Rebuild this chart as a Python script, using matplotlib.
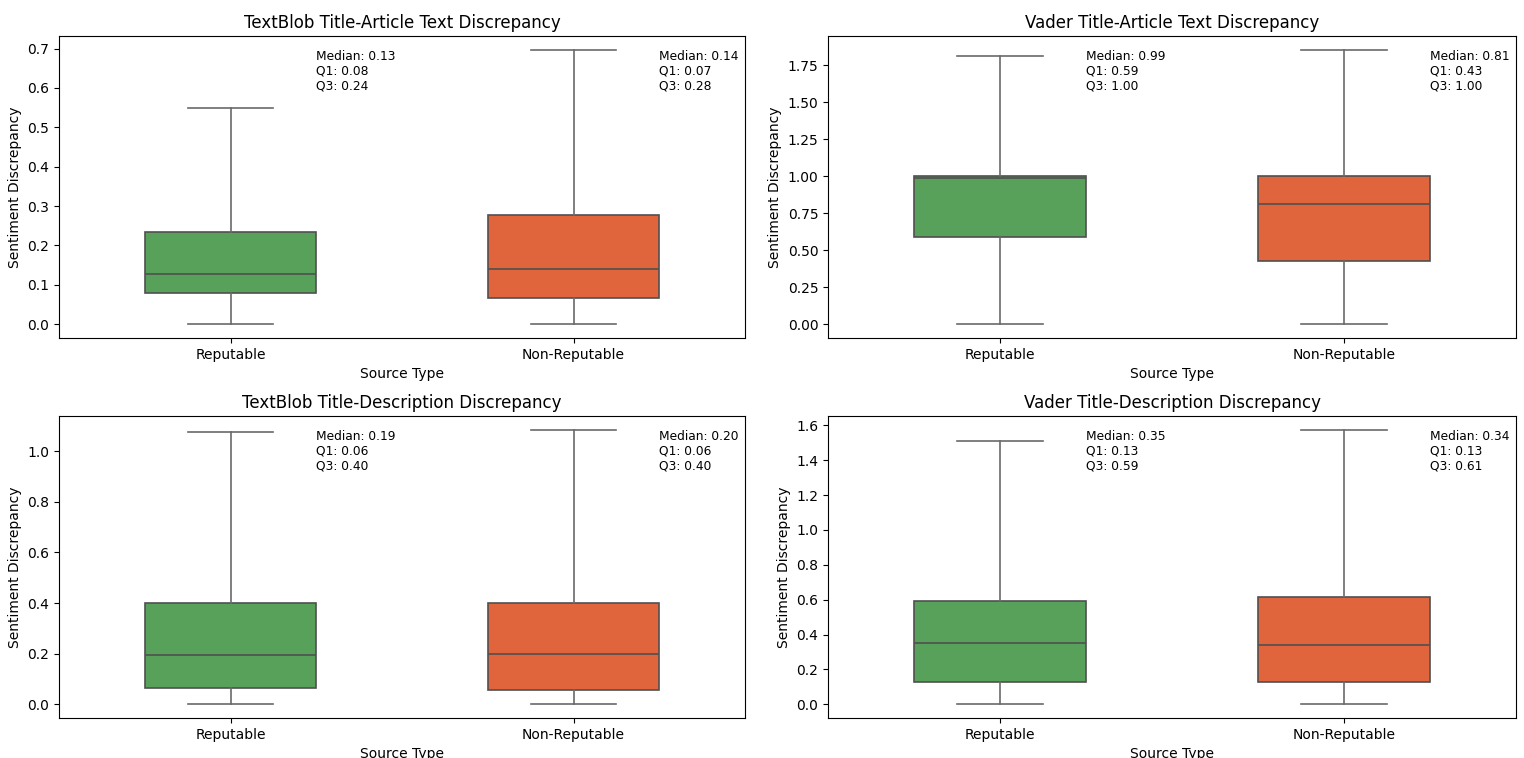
import matplotlib
matplotlib.use("Agg")
import matplotlib.pyplot as plt

categories = ['Reputable', 'Non-Reputable']
colors = ['#57a15b', '#e0643c']

titles = [
    'TextBlob Title-Article Text Discrepancy',
    'Vader Title-Article Text Discrepancy',
    'TextBlob Title-Description Discrepancy',
    'Vader Title-Description Discrepancy',
]

# per panel: [Reputable, Non-Reputable]
whislo = [[0.0, 0.0], [0.0, 0.0], [0.0, 0.0], [0.0, 0.0]]
q1 = [[0.079, 0.066], [0.59, 0.43], [0.063, 0.057], [0.125, 0.125]]
median = [[0.128, 0.140], [0.99, 0.81], [0.193, 0.200], [0.35, 0.34]]
q3 = [[0.234, 0.278], [1.00, 1.00], [0.400, 0.400], [0.59, 0.615]]
whishi = [[0.549, 0.697], [1.81, 1.855], [1.075, 1.085], [1.51, 1.575]]

# labels printed on the chart (rounded)
lbl_median = [['0.13', '0.14'], ['0.99', '0.81'], ['0.19', '0.20'], ['0.35', '0.34']]
lbl_q1 = [['0.08', '0.07'], ['0.59', '0.43'], ['0.06', '0.06'], ['0.13', '0.13']]
lbl_q3 = [['0.24', '0.28'], ['1.00', '1.00'], ['0.40', '0.40'], ['0.59', '0.61']]

W, H = 1524, 758
fig = plt.figure(figsize=(W / 100, H / 100), dpi=100)

cols = [(59, 745), (828, 1516)]
rows = [(36, 338), (416, 718)]

edge_kw = dict(color='#505050', linewidth=1.2)
whisk_kw = dict(color='#6a6a6a', linewidth=1.2)

for k in range(4):
    r, c = divmod(k, 2)
    x0, x1 = cols[c]
    y0, y1 = rows[r]
    ax = fig.add_axes([x0 / W, 1 - y1 / H, (x1 - x0) / W, (y1 - y0) / H])

    stats = []
    for i in range(2):
        stats.append(dict(med=median[k][i], q1=q1[k][i], q3=q3[k][i],
                          whislo=whislo[k][i], whishi=whishi[k][i], fliers=[]))
    bp = ax.bxp(stats, positions=[0, 1], widths=0.5, patch_artist=True,
                showfliers=False,
                boxprops=dict(edgecolor='#505050', linewidth=1.2),
                medianprops=edge_kw, whiskerprops=whisk_kw, capprops=whisk_kw)
    for patch, col in zip(bp['boxes'], colors):
        patch.set_facecolor(col)

    ax.set_xlim(-0.5, 1.5)
    ax.set_xticks([0, 1])
    ax.set_xticklabels(categories)
    top = max(whishi[k])
    for i in range(2):
        ax.text(i + 0.25, top,
                f"Median: {lbl_median[k][i]}\nQ1: {lbl_q1[k][i]}\nQ3: {lbl_q3[k][i]}",
                ha='left', va='top', fontsize=8.8)

    ax.set_title(titles[k], fontsize=12)
    ax.set_xlabel('Source Type')
    ax.set_ylabel('Sentiment Discrepancy')

fig.savefig('out.png', dpi=100)
